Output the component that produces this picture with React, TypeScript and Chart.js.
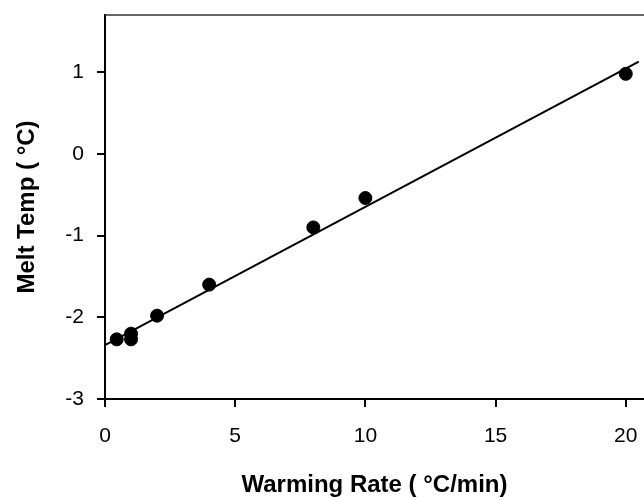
import React, { useEffect, useRef } from "react";
import { Chart, registerables } from "chart.js";

Chart.register(...registerables);

const warmingRate = [0.45, 1, 1, 2, 4, 8, 10, 20];
const meltTemp = [-2.27, -2.2, -2.27, -1.98, -1.6, -0.9, -0.54, 0.98];
const fitX = [0, 20.5];
const fitY = [-2.34, 1.13];
const xTickValues = [0, 5, 10, 15, 20];
const yTickValues = [-3, -2, -1, 0, 1];
const xTitle = "Warming Rate ( °C/min)";
const yTitle = "Melt Temp ( °C)";

const FONT = "'Liberation Sans', Arial, Helvetica, sans-serif";

const topLine = {
  id: "topLine",
  afterDraw(chart: any) {
    const { ctx, chartArea } = chart;
    ctx.save();
    ctx.strokeStyle = "#333";
    ctx.lineWidth = 1.5;
    ctx.beginPath();
    ctx.moveTo(chartArea.left, chartArea.top);
    ctx.lineTo(chartArea.right, chartArea.top);
    ctx.stroke();
    ctx.restore();
  },
};

export default function App() {
  const ref = useRef<HTMLCanvasElement | null>(null);
  useEffect(() => {
    if (!ref.current) return;
    const chart = new Chart(ref.current, {
      type: "scatter",
      data: {
        datasets: [
          {
            type: "line",
            data: fitX.map((x, i) => ({ x, y: fitY[i] })),
            borderColor: "#000",
            borderWidth: 2,
            pointRadius: 0,
            fill: false,
          },
          {
            type: "scatter",
            data: warmingRate.map((x, i) => ({ x, y: meltTemp[i] })),
            backgroundColor: "#000",
            borderColor: "#000",
            pointRadius: 6.5,
          },
        ],
      },
      options: {
        animation: false,
        responsive: false,
        maintainAspectRatio: false,
        layout: { autoPadding: false, padding: { top: 15, right: 0, bottom: 0, left: 0 } },
        plugins: { legend: { display: false }, tooltip: { enabled: false } },
        scales: {
          x: {
            type: "linear",
            min: 0,
            max: 20.7,
            afterBuildTicks: (axis: any) => {
              axis.ticks = xTickValues.map((v) => ({ value: v }));
            },
            afterFit: (scale: any) => {
              scale.height = 101;
              scale.paddingLeft = 0;
              scale.paddingRight = 0;
            },
            ticks: {
              color: "#000",
              padding: 17,
              font: { family: FONT, size: 21 },
              callback: (v: any) => String(v),
            },
            grid: {
              drawOnChartArea: false,
              drawTicks: true,
              tickLength: 8,
              color: "#000",
              lineWidth: 2,
            },
            border: { display: true, color: "#000", width: 2 },
            title: {
              display: true,
              text: xTitle,
              color: "#000",
              font: { family: FONT, size: 24, weight: "bold" },
              padding: { top: 0, bottom: 0 },
            },
          },
          y: {
            type: "linear",
            min: -3,
            max: 1.7,
            afterBuildTicks: (axis: any) => {
              axis.ticks = yTickValues.map((v) => ({ value: v }));
            },
            afterFit: (scale: any) => {
              scale.width = 105;
              scale.paddingTop = 0;
              scale.paddingBottom = 0;
            },
            ticks: {
              color: "#000",
              padding: 13,
              font: { family: FONT, size: 21 },
              callback: (v: any) => String(v),
            },
            grid: {
              drawOnChartArea: false,
              drawTicks: true,
              tickLength: 8,
              color: "#000",
              lineWidth: 2,
            },
            border: { display: true, color: "#000", width: 2 },
            title: {
              display: true,
              text: yTitle,
              color: "#000",
              font: { family: FONT, size: 24, weight: "bold" },
              padding: { top: 13, bottom: 0 },
            },
          },
        },
      },
      plugins: [topLine],
    } as any);
    return () => chart.destroy();
  }, []);
  return (
    <div style={{ position: "fixed", left: 0, top: 0, width: 644, height: 500, background: "#fff" }}>
      <canvas ref={ref} width={644} height={500} style={{ width: 644, height: 500, display: "block" }} />
    </div>
  );
}
